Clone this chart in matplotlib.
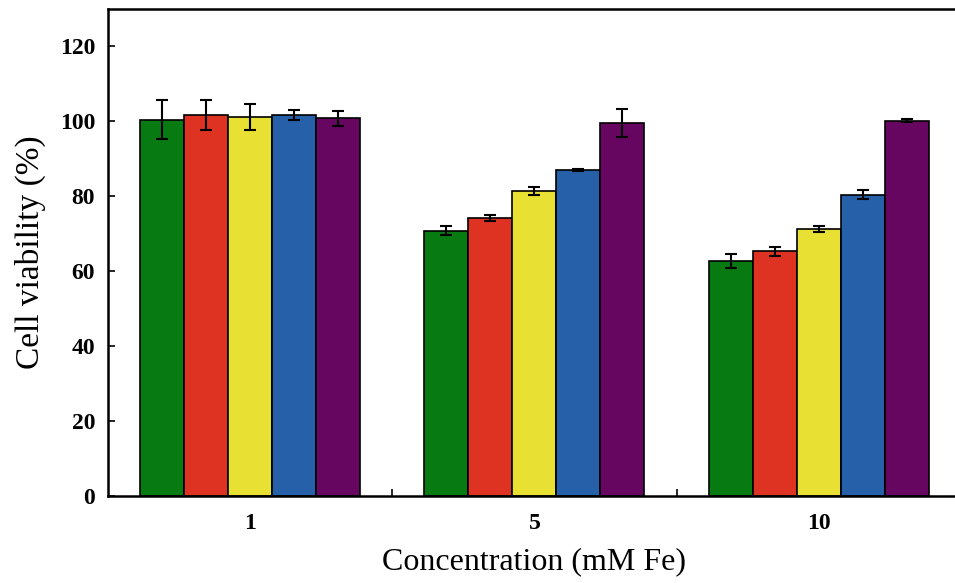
import numpy as np
import matplotlib
matplotlib.use('Agg')
import matplotlib.pyplot as plt
from matplotlib.ticker import FixedLocator

# ---------------------------------------------------------------------- #
# Data: cell viability (%) per iron concentration, five samples per group
# ---------------------------------------------------------------------- #
concentrations = ['1', '5', '10']
green_vals = [100.5, 70.8, 62.8]
green_err = [5.3, 1.2, 1.9]
red_vals = [101.8, 74.3, 65.3]
red_err = [4.0, 0.8, 1.1]
yellow_vals = [101.2, 81.4, 71.2]
yellow_err = [3.5, 1.0, 0.8]
blue_vals = [101.7, 87.1, 80.4]
blue_err = [1.3, 0.3, 1.2]
purple_vals = [100.9, 99.6, 100.2]
purple_err = [2.0, 3.8, 0.4]

series = [
    (green_vals, green_err, '#087a12'),
    (red_vals, red_err, '#de3222'),
    (yellow_vals, yellow_err, '#e8e032'),
    (blue_vals, blue_err, '#2660a8'),
    (purple_vals, purple_err, '#660660'),
]

plt.rcParams['font.family'] = ['Liberation Serif', 'DejaVu Serif']

fig = plt.figure(figsize=(9.55, 5.83), dpi=100)
# right spine sits just past the figure edge
ax = fig.add_axes([0.1126, 0.149, 0.894, 0.8356])

x = np.arange(len(concentrations))
width = 0.1545
n = len(series)
for k, (vals, err, color) in enumerate(series):
    pos = x + (k - (n - 1) / 2) * width
    ax.bar(pos, vals, width, color=color, edgecolor='black', linewidth=1.2,
           zorder=2)
    ax.errorbar(pos, vals, yerr=err, fmt='none', ecolor='black',
                elinewidth=1.5, capsize=4, capthick=1.5, zorder=3)

ax.set_xlim(-0.5, 2.5)
ax.set_ylim(0, 130)
ax.set_yticks(np.arange(0, 121, 20))
ax.set_xticks(x)
ax.set_xticklabels(concentrations)
ax.xaxis.set_minor_locator(FixedLocator([0.5, 1.5]))
ax.tick_params(axis='x', which='major', length=0, pad=12)
ax.tick_params(axis='x', which='minor', direction='in', length=5, width=1.2)
ax.tick_params(axis='y', direction='in', length=5, width=1.2, pad=9)
for lab in ax.get_xticklabels() + ax.get_yticklabels():
    lab.set_fontsize(17)
    lab.set_fontweight('bold')
for sp in ax.spines.values():
    sp.set_linewidth(1.8)

ax.set_xlabel('Concentration (mM Fe)', fontsize=23, labelpad=10)
ax.set_ylabel('Cell viability (%)', fontsize=24, labelpad=10)

plt.savefig('out.png', dpi=100)
plt.close('all')
